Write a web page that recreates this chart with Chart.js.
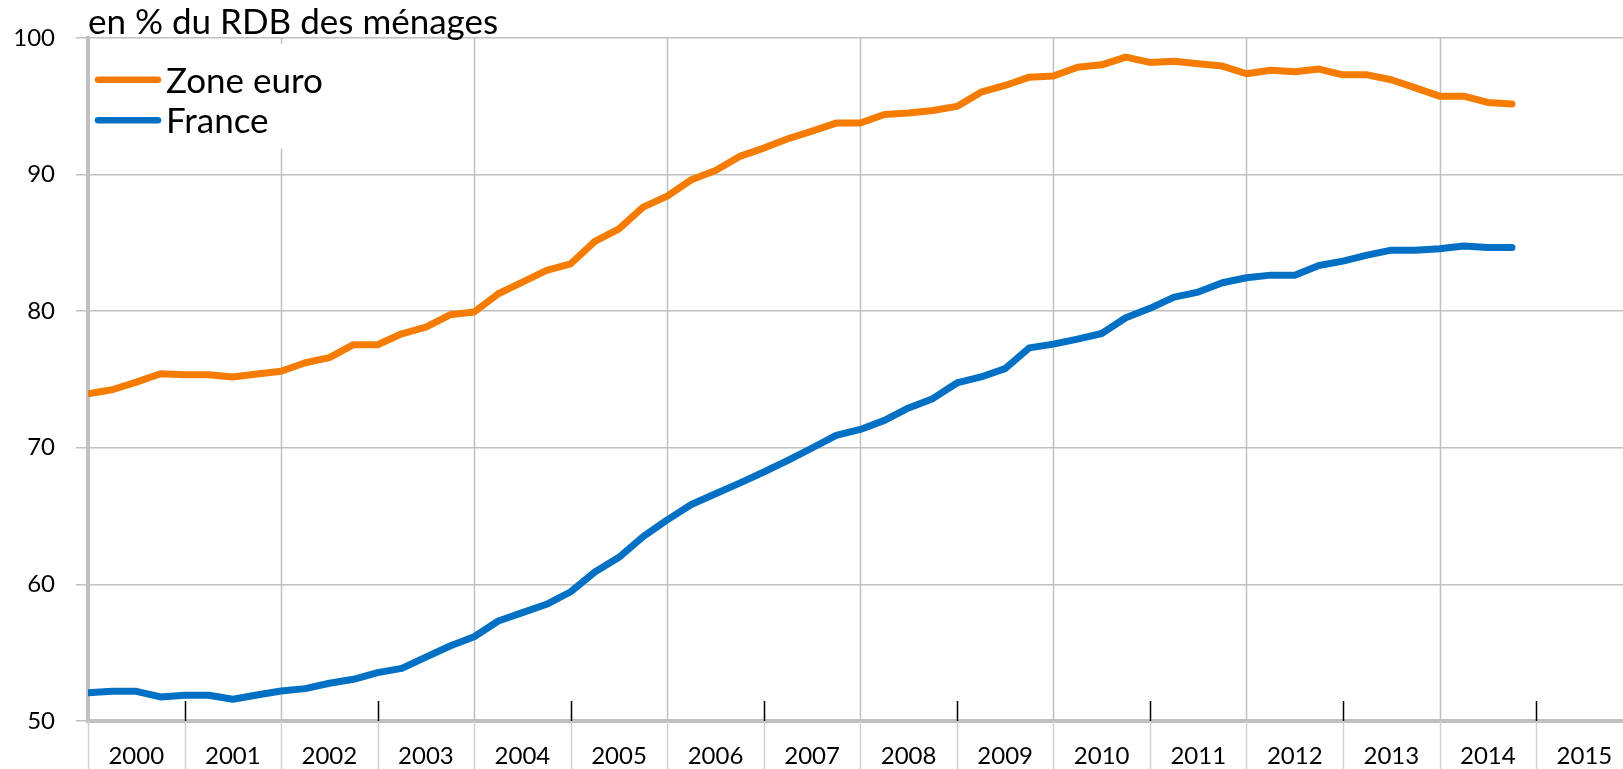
<!DOCTYPE html>
<html lang="fr">
<head>
<meta charset="utf-8">
<title>Endettement des ménages</title>
<script src="https://cdn.jsdelivr.net/npm/chart.js"></script>
<style>
  html, body { margin: 0; padding: 0; background: #fff; overflow: hidden; }
  #graph { display: block; }
</style>
</head>
<body>
<canvas id="graph" width="1623" height="769"></canvas>
<script>
const FIRST_YEAR = 2000;
const years = ['2000', '2001', '2002', '2003', '2004', '2005', '2006', '2007',
               '2008', '2009', '2010', '2011', '2012', '2013', '2014', '2015'];

// données trimestrielles, 2000T1 -> 2014T4
const zoneEuro = [
    73.95, 74.24, 74.8, 75.41, 75.34, 75.34, 75.17, 75.39,
    75.6, 76.22, 76.59, 77.54, 77.54, 78.34, 78.83, 79.73,
    79.93, 81.27, 82.12, 82.98, 83.46, 85.1, 86.02, 87.61,
    88.41, 89.61, 90.29, 91.32, 91.93, 92.61, 93.17, 93.76,
    93.76, 94.39, 94.49, 94.68, 94.98, 96.02, 96.51, 97.12,
    97.2, 97.85, 98.02, 98.59, 98.2, 98.29, 98.1, 97.93,
    97.37, 97.63, 97.51, 97.71, 97.29, 97.29, 96.93, 96.34,
    95.73, 95.73, 95.27, 95.15
];
const france = [
    52.07, 52.17, 52.17, 51.76, 51.88, 51.88, 51.59, 51.9,
    52.2, 52.37, 52.76, 53.05, 53.54, 53.85, 54.68, 55.49,
    56.17, 57.32, 57.93, 58.54, 59.46, 60.9, 61.98, 63.5,
    64.72, 65.84, 66.63, 67.41, 68.22, 69.07, 69.98, 70.9,
    71.34, 72.0, 72.91, 73.59, 74.74, 75.18, 75.79, 77.31,
    77.58, 77.95, 78.36, 79.51, 80.2, 81.02, 81.39, 82.07,
    82.44, 82.63, 82.63, 83.34, 83.66, 84.1, 84.46, 84.46,
    84.56, 84.76, 84.66, 84.66
];
const seriesNames = ['Zone euro', 'France'];
const seriesColors = ['#f57c00', '#0070c4'];
const unitLabel = 'en % du RDB des ménages';

const FONT = 'Lato, "Noto Sans", sans-serif';
const GRID = '#c0c0c0';

function toPoints(values) {
    return values.map((v, i) => ({ x: FIRST_YEAR + i / 4, y: v }));
}

// traits verticaux : grille pleine les années paires, petit trait noir les années impaires
const yearLines = {
    id: 'yearLines',
    beforeDatasetsDraw(chart) {
        const { ctx, chartArea } = chart;
        const xs = chart.scales.x;
        ctx.save();
        ctx.lineWidth = 1.5;
        for (let k = 0; k <= years.length; k++) {
            const px = Math.round(xs.getPixelForValue(FIRST_YEAR + k)) + 0.5;
            if (px > chart.width) continue;
            ctx.strokeStyle = '#d0d0d0';
            ctx.beginPath();
            ctx.moveTo(px, chartArea.bottom);
            ctx.lineTo(px, chart.height);
            ctx.stroke();
            if (k === 0) continue;
            ctx.beginPath();
            if (k % 2 === 0) {
                ctx.strokeStyle = GRID;
                ctx.moveTo(px, chartArea.top);
            } else {
                ctx.strokeStyle = '#000';
                ctx.moveTo(px, chartArea.bottom - 20);
            }
            ctx.lineTo(px, chartArea.bottom);
            ctx.stroke();
        }
        ctx.restore();
    }
};

const insideLegend = {
    id: 'insideLegend',
    afterDatasetsDraw(chart) {
        const { ctx, chartArea } = chart;
        ctx.save();
        ctx.fillStyle = '#fff';
        ctx.fillRect(chartArea.left + 3, chartArea.top + 6, 245, 105);
        chart.data.datasets.forEach((ds, k) => {
            const y = chartArea.top + 42 + k * 40.5;
            ctx.strokeStyle = ds.borderColor;
            ctx.lineWidth = 6.5;
            ctx.lineCap = 'round';
            ctx.beginPath();
            ctx.moveTo(chartArea.left + 10, y);
            ctx.lineTo(chartArea.left + 70, y);
            ctx.stroke();
            ctx.fillStyle = '#000';
            ctx.font = '35px ' + FONT;
            ctx.textBaseline = 'alphabetic';
            ctx.textAlign = 'left';
            ctx.fillText(ds.label, chartArea.left + 78, y + 13);
        });
        ctx.restore();
    }
};

new Chart(document.getElementById('graph'), {
    type: 'line',
    data: {
        datasets: [
            {
                label: seriesNames[0],
                data: toPoints(zoneEuro),
                borderColor: seriesColors[0],
                borderWidth: 7,
                borderCapStyle: 'round',
                borderJoinStyle: 'round',
                pointRadius: 0,
                tension: 0,
            },
            {
                label: seriesNames[1],
                data: toPoints(france),
                borderColor: seriesColors[1],
                borderWidth: 7,
                borderCapStyle: 'round',
                borderJoinStyle: 'round',
                pointRadius: 0,
                tension: 0,
            },
        ],
    },
    options: {
        responsive: false,
        devicePixelRatio: 1,
        animation: false,
        layout: { padding: { left: 0, right: 0, top: 0, bottom: 0 } },
        scales: {
            x: {
                type: 'linear',
                min: FIRST_YEAR,
                max: FIRST_YEAR + 15.9,
                afterBuildTicks: (scale) => {
                    scale.ticks = years.map((y, k) => ({ value: FIRST_YEAR + k + 0.5 }));
                },
                afterFit: (scale) => {
                    scale.height = 48;
                    scale.paddingLeft = 0;
                    scale.paddingRight = 0;
                },
                grid: { display: false, drawTicks: false },
                border: { display: true, color: GRID, width: 4 },
                ticks: {
                    autoSkip: false,
                    maxRotation: 0,
                    padding: 21,
                    color: '#000',
                    font: { family: FONT, size: 24 },
                    callback: (v) => years[Math.floor(v - FIRST_YEAR)],
                },
            },
            y: {
                min: 50,
                max: 100,
                afterFit: (scale) => { scale.width = 88; },
                ticks: {
                    stepSize: 10,
                    padding: 21,
                    color: '#000',
                    font: { family: FONT, size: 24 },
                },
                grid: { color: GRID, lineWidth: 1.5, tickLength: 12, tickColor: GRID },
                border: { color: GRID, width: 4 },
            },
        },
        plugins: {
            legend: { display: false },
            tooltip: { enabled: false },
            title: {
                display: true,
                text: unitLabel,
                align: 'start',
                fullSize: false,
                color: '#000',
                font: { family: FONT, size: 35, weight: 'normal', lineHeight: 0.88 },
                padding: { top: 7, bottom: 0 },
            },
        },
    },
    plugins: [yearLines, insideLegend],
});
</script>
</body>
</html>
